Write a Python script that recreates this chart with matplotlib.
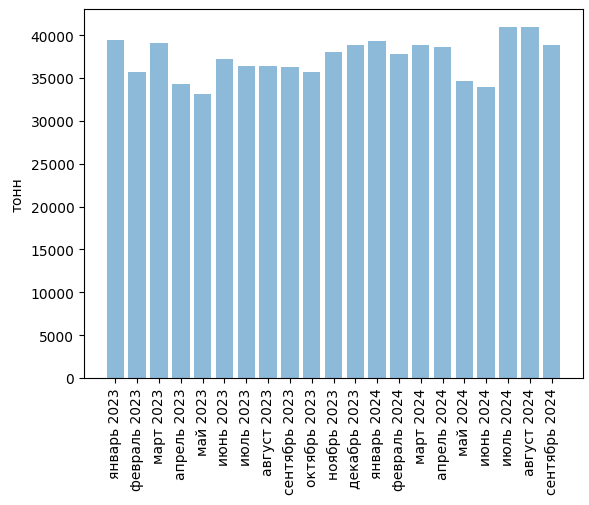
import numpy as np
import matplotlib
matplotlib.use('Agg')
import matplotlib.pyplot as plt

months = ['январь 2023', 'февраль 2023', 'март 2023', 'апрель 2023', 'май 2023',
          'июнь 2023', 'июль 2023', 'август 2023', 'сентябрь 2023', 'октябрь 2023',
          'ноябрь 2023', 'декабрь 2023', 'январь 2024', 'февраль 2024', 'март 2024',
          'апрель 2024', 'май 2024', 'июнь 2024', 'июль 2024', 'август 2024',
          'сентябрь 2024']
tons = [39400, 35700, 39100, 34300, 33100, 37200, 36400, 36400, 36300, 35700,
        38000, 38800, 39300, 37800, 38900, 38600, 34600, 34000, 41000, 40900,
        38900]

fig = plt.figure(figsize=(5.89, 5.06), dpi=100)
ax = fig.add_axes([84 / 589, 1 - 379 / 506, (583 - 84) / 589, (379 - 10) / 506])
ax.bar(months, tons, alpha=0.5)
ax.set_ylabel('тонн')
plt.xticks(rotation=90)
fig.savefig('out.png', dpi=100)
